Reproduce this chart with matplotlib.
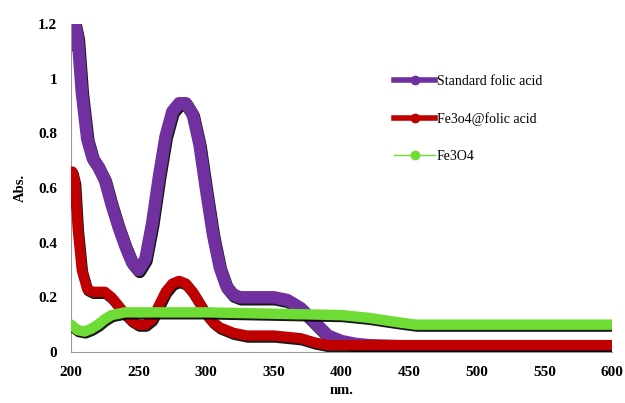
import numpy as np
import matplotlib.pyplot as plt
import matplotlib.patheffects as pe
from matplotlib.lines import Line2D

# UV-vis spectra
wl_std = [200, 202, 205, 208, 212, 216, 220, 225, 230, 235, 240, 245, 250, 255, 260,
          265, 270, 275, 280, 285, 290, 295, 300, 305, 310, 315, 320, 325, 330, 340,
          350, 360, 370, 380, 390, 400, 410, 420, 450, 500, 550, 600]
abs_std = [1.13, 1.22, 1.15, 0.95, 0.78, 0.71, 0.68, 0.63, 0.54, 0.46, 0.39, 0.33, 0.30, 0.34, 0.47,
           0.64, 0.79, 0.88, 0.91, 0.91, 0.87, 0.76, 0.59, 0.43, 0.31, 0.24, 0.21, 0.20, 0.20, 0.20,
           0.20, 0.19, 0.16, 0.11, 0.06, 0.04, 0.03, 0.025, 0.02, 0.02, 0.02, 0.02]

wl_fefa = [200, 201, 203, 205, 208, 212, 216, 220, 225, 230, 235, 240, 245, 250, 255,
           260, 265, 270, 275, 280, 285, 290, 295, 300, 305, 310, 320, 330, 340, 350,
           360, 370, 380, 390, 400, 450, 500, 550, 600]
abs_fefa = [0.55, 0.66, 0.62, 0.45, 0.30, 0.23, 0.22, 0.22, 0.22, 0.20, 0.17, 0.14, 0.115, 0.10, 0.10,
            0.12, 0.17, 0.22, 0.25, 0.26, 0.25, 0.22, 0.18, 0.14, 0.11, 0.09, 0.07, 0.06, 0.06, 0.06,
            0.055, 0.05, 0.035, 0.025, 0.025, 0.025, 0.025, 0.025, 0.025]

wl_fe = [200, 205, 210, 215, 220, 225, 230, 235, 240, 250, 300, 350, 400, 420, 440, 455, 500, 550, 600]
abs_fe = [0.10, 0.08, 0.075, 0.085, 0.10, 0.12, 0.135, 0.14, 0.145, 0.145, 0.145, 0.14, 0.135,
          0.125, 0.11, 0.10, 0.10, 0.10, 0.10]

purple = '#7030a0'
red = '#c00000'
green = '#6fdc35'

plt.rcParams['font.family'] = ['Liberation Serif', 'DejaVu Serif']

fig = plt.figure(figsize=(6.25, 4.03), dpi=100)
ax = fig.add_axes([0.1136, 0.1266, 0.8654, 0.8138])

shadow = [pe.SimpleLineShadow(offset=(0.8, -1.4), shadow_color='black', alpha=0.9), pe.Normal()]

ax.plot(wl_std, abs_std, color=purple, lw=9, solid_capstyle='round', solid_joinstyle='round',
        path_effects=shadow, zorder=2)
ax.plot(wl_fefa, abs_fefa, color=red, lw=7.5, solid_capstyle='round', solid_joinstyle='round',
        path_effects=shadow, zorder=3)
ax.plot(wl_fe, abs_fe, color=green, lw=7.5, solid_capstyle='round', solid_joinstyle='round',
        path_effects=shadow, zorder=4)

ax.set_xlim(200, 600)
ax.set_ylim(0, 1.2)
ax.set_xticks(np.arange(200, 601, 50))
ax.set_yticks([0, 0.2, 0.4, 0.6, 0.8, 1.0, 1.2])
ax.set_yticklabels(['0', '0.2', '0.4', '0.6', '0.8', '1', '1.2'])
ax.tick_params(length=0, labelsize=11)
ax.tick_params(axis='x', pad=10)
ax.tick_params(axis='y', pad=10)
for lbl in ax.get_xticklabels() + ax.get_yticklabels():
    lbl.set_fontweight('bold')

for s in ['top', 'right']:
    ax.spines[s].set_visible(False)
for s in ['left', 'bottom']:
    ax.spines[s].set_color('#999999')
    ax.spines[s].set_linewidth(0.8)

ax.set_xlabel('nm.', fontsize=10.5, fontweight='bold', labelpad=4)
ax.set_ylabel('Abs.', fontsize=10.5, fontweight='bold', labelpad=8)

handles = [Line2D([], [], color=purple, lw=4, marker='o', ms=6),
           Line2D([], [], color=red, lw=4, marker='o', ms=6),
           Line2D([], [], color=green, lw=1, marker='o', ms=6)]
labels = ['Standard folic acid', 'Fe3o4@folic acid', 'Fe3O4']
fig.legend(handles, labels, loc='upper left', bbox_to_anchor=(0.61, 0.845), frameon=False,
           fontsize=10, handlelength=3, labelspacing=1.75, handletextpad=0.1)

fig.savefig('out.png', dpi=100)
